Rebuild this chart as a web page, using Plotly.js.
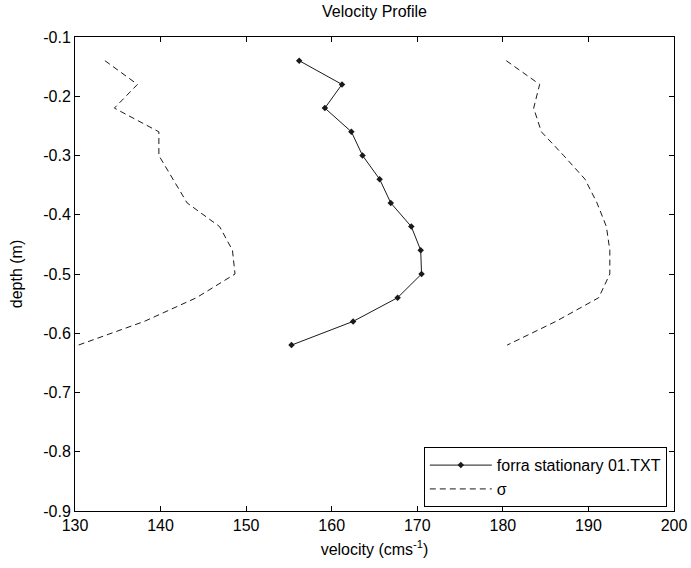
<!DOCTYPE html>
<html>
<head>
<meta charset="utf-8">
<script src="https://cdn.plot.ly/plotly-3.0.1.min.js"></script>
<style>html,body{margin:0;padding:0;background:#fff;}#chart{width:691px;height:568px;}</style>
</head>
<body>
<div id="chart"></div>
<script>
// depth (m)
const depth = [-0.14, -0.18, -0.22, -0.26, -0.30, -0.34, -0.38, -0.42, -0.46, -0.50, -0.54, -0.58, -0.62];
// mean velocity profile (cm/s)
const velocity = [156.2, 161.2, 159.2, 162.3, 163.6, 165.6, 166.9, 169.3, 170.4, 170.5, 167.7, 162.5, 155.3];
// lower sigma envelope
const sigmaLow = [133.5, 137.3, 134.6, 139.8, 139.8, 141.4, 143.1, 146.9, 148.4, 148.7, 144.2, 138.1, 130.4];
// upper sigma envelope
const sigmaHigh = [180.4, 184.3, 183.6, 184.5, 187.1, 189.6, 191.0, 192.1, 192.5, 192.5, 191.2, 186.2, 180.5];

const xTickVals = [130, 140, 150, 160, 170, 180, 190, 200];
const xTickLabels = ['130', '140', '150', '160', '170', '180', '190', '200'];
const yTickVals = [-0.1, -0.2, -0.3, -0.4, -0.5, -0.6, -0.7, -0.8, -0.9];
const yTickLabels = ['-0.1', '-0.2', '-0.3', '-0.4', '-0.5', '-0.6', '-0.7', '-0.8', '-0.9'];

const FONT = 'Liberation Sans, Arial, sans-serif';
const INK = '#1a1a1a';
const FS = 16;

const traces = [
  {
    x: velocity, y: depth, type: 'scatter', mode: 'lines+markers',
    name: 'forra stationary 01.TXT',
    line: {color: INK, width: 1},
    marker: {symbol: 'diamond', size: 5, color: INK}
  },
  {
    x: sigmaLow, y: depth, type: 'scatter', mode: 'lines',
    name: 'σ',
    line: {color: INK, width: 1, dash: '6px,4px'}
  },
  {
    x: sigmaHigh, y: depth, type: 'scatter', mode: 'lines',
    name: 'σ', showlegend: false,
    line: {color: INK, width: 1, dash: '6px,4px'}
  }
];

const axisCommon = {
  showline: true, linecolor: '#000', linewidth: 1, mirror: 'ticks',
  ticks: 'inside', ticklen: 5, tickcolor: '#000', tickwidth: 1,
  showgrid: false, zeroline: false,
  tickfont: {family: FONT, size: FS, color: '#000'}
};

const layout = {
  width: 691, height: 568,
  margin: {l: 75, r: 17, t: 37, b: 57},
  paper_bgcolor: '#fff', plot_bgcolor: '#fff',
  font: {family: FONT, size: FS, color: '#000'},
  title: {text: 'Velocity Profile', font: {family: FONT, size: FS, color: '#000'}, x: 0.542, xanchor: 'center', y: 0.98, yanchor: 'middle'},
  xaxis: Object.assign({}, axisCommon, {
    range: [130, 200], tickmode: 'array', tickvals: xTickVals, ticktext: xTickLabels,
    title: {text: 'velocity (cms<sup>-1</sup>)', font: {family: FONT, size: FS, color: '#000'}, standoff: 10}
  }),
  yaxis: Object.assign({}, axisCommon, {
    range: [-0.9, -0.1], tickmode: 'array', tickvals: yTickVals, ticktext: yTickLabels,
    title: {text: 'depth (m)', font: {family: FONT, size: FS, color: '#000'}, standoff: 16}
  }),
  showlegend: true,
  legend: {
    x: 0.988, xanchor: 'right', y: 0.008, yanchor: 'bottom',
    bgcolor: '#fff', bordercolor: '#000', borderwidth: 1,
    font: {family: FONT, size: FS, color: '#000'},
    tracegroupgap: 0, itemwidth: 62
  }
};

Plotly.newPlot('chart', traces, layout, {displayModeBar: false, staticPlot: true});
</script>
</body>
</html>
